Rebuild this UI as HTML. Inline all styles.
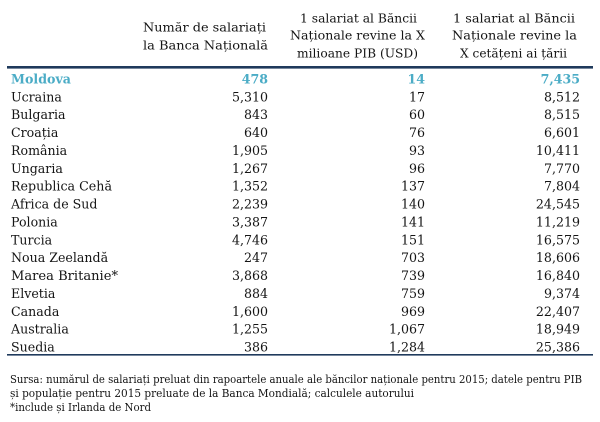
<!DOCTYPE html>
<html>
<head>
<meta charset="utf-8">
<style>
html,body{margin:0;padding:0;background:#ffffff;}
svg{display:block;}
text{font-family:"DejaVu Serif","Liberation Serif",serif;fill:#141414;}
.h{font-size:12.5px;}
.r{font-size:12.6px;}
.n{text-anchor:end;font-size:12.6px;}
.m{fill:#4bacc6;font-weight:bold;}
.f{font-size:11px;}
</style>
</head>
<body>
<svg width="600" height="422" viewBox="0 0 600 422" xmlns="http://www.w3.org/2000/svg">
<rect x="0" y="0" width="600" height="422" fill="#ffffff"/>
<!-- headers -->
<text class="h" x="143" y="31.5" textLength="123" lengthAdjust="spacingAndGlyphs">Număr de salariați</text>
<text class="h" x="143" y="49.5" textLength="125" lengthAdjust="spacingAndGlyphs">la Banca Națională</text>

<text class="h" x="300" y="22.5" textLength="117" lengthAdjust="spacingAndGlyphs">1 salariat al Băncii</text>
<text class="h" x="290" y="39.5" textLength="135" lengthAdjust="spacingAndGlyphs">Naționale revine la X</text>
<text class="h" x="297" y="57.5" textLength="121" lengthAdjust="spacingAndGlyphs">milioane PIB (USD)</text>

<text class="h" x="453" y="22.5" textLength="122" lengthAdjust="spacingAndGlyphs">1 salariat al Băncii</text>
<text class="h" x="452" y="39.5" textLength="125" lengthAdjust="spacingAndGlyphs">Naționale revine la</text>
<text class="h" x="460" y="57.5" textLength="107" lengthAdjust="spacingAndGlyphs">X cetățeni ai țării</text>

<!-- rules -->
<rect x="7" y="66" width="586" height="2.6" fill="#1f3a5c"/>
<rect x="7" y="354" width="586" height="1.6" fill="#1f3a5c"/>

<!-- rows -->
<g>
<text class="r m" x="11" y="83.5" textLength="60" lengthAdjust="spacingAndGlyphs">Moldova</text>
<text class="n m" x="268" y="83.5">478</text>
<text class="n m" x="425" y="83.5">14</text>
<text class="n m" x="580" y="83.5">7,435</text>

<text class="r" x="11" y="101.4">Ucraina</text>
<text class="n" x="268" y="101.4">5,310</text>
<text class="n" x="425" y="101.4">17</text>
<text class="n" x="580" y="101.4">8,512</text>

<text class="r" x="11" y="119.2">Bulgaria</text>
<text class="n" x="268" y="119.2">843</text>
<text class="n" x="425" y="119.2">60</text>
<text class="n" x="580" y="119.2">8,515</text>

<text class="r" x="11" y="137.1">Croația</text>
<text class="n" x="268" y="137.1">640</text>
<text class="n" x="425" y="137.1">76</text>
<text class="n" x="580" y="137.1">6,601</text>

<text class="r" x="11" y="155.0">România</text>
<text class="n" x="268" y="155.0">1,905</text>
<text class="n" x="425" y="155.0">93</text>
<text class="n" x="580" y="155.0">10,411</text>

<text class="r" x="11" y="172.8">Ungaria</text>
<text class="n" x="268" y="172.8">1,267</text>
<text class="n" x="425" y="172.8">96</text>
<text class="n" x="580" y="172.8">7,770</text>

<text class="r" x="11" y="190.7" textLength="101" lengthAdjust="spacingAndGlyphs">Republica Cehă</text>
<text class="n" x="268" y="190.7">1,352</text>
<text class="n" x="425" y="190.7">137</text>
<text class="n" x="580" y="190.7">7,804</text>

<text class="r" x="11" y="208.6">Africa de Sud</text>
<text class="n" x="268" y="208.6">2,239</text>
<text class="n" x="425" y="208.6">140</text>
<text class="n" x="580" y="208.6">24,545</text>

<text class="r" x="11" y="226.5">Polonia</text>
<text class="n" x="268" y="226.5">3,387</text>
<text class="n" x="425" y="226.5">141</text>
<text class="n" x="580" y="226.5">11,219</text>

<text class="r" x="11" y="244.3">Turcia</text>
<text class="n" x="268" y="244.3">4,746</text>
<text class="n" x="425" y="244.3">151</text>
<text class="n" x="580" y="244.3">16,575</text>

<text class="r" x="11" y="262.2">Noua Zeelandă</text>
<text class="n" x="268" y="262.2">247</text>
<text class="n" x="425" y="262.2">703</text>
<text class="n" x="580" y="262.2">18,606</text>

<text class="r" x="11" y="280.1" textLength="107" lengthAdjust="spacingAndGlyphs">Marea Britanie*</text>
<text class="n" x="268" y="280.1">3,868</text>
<text class="n" x="425" y="280.1">739</text>
<text class="n" x="580" y="280.1">16,840</text>

<text class="r" x="11" y="297.9">Elvetia</text>
<text class="n" x="268" y="297.9">884</text>
<text class="n" x="425" y="297.9">759</text>
<text class="n" x="580" y="297.9">9,374</text>

<text class="r" x="11" y="315.8">Canada</text>
<text class="n" x="268" y="315.8">1,600</text>
<text class="n" x="425" y="315.8">969</text>
<text class="n" x="580" y="315.8">22,407</text>

<text class="r" x="11" y="333.7">Australia</text>
<text class="n" x="268" y="333.7">1,255</text>
<text class="n" x="425" y="333.7">1,067</text>
<text class="n" x="580" y="333.7">18,949</text>

<text class="r" x="11" y="351.5">Suedia</text>
<text class="n" x="268" y="351.5">386</text>
<text class="n" x="425" y="351.5">1,284</text>
<text class="n" x="580" y="351.5">25,386</text>
</g>

<!-- footnotes -->
<text class="f" x="10" y="383" textLength="572" lengthAdjust="spacingAndGlyphs">Sursa: numărul de salariați preluat din rapoartele anuale ale băncilor naționale pentru 2015; datele pentru PIB</text>
<text class="f" x="10" y="397" textLength="404" lengthAdjust="spacingAndGlyphs">și populație  pentru 2015 preluate de la Banca Mondială; calculele autorului</text>
<text class="f" x="10" y="411" textLength="141" lengthAdjust="spacingAndGlyphs">*include și Irlanda de Nord</text>
</svg>
</body>
</html>
